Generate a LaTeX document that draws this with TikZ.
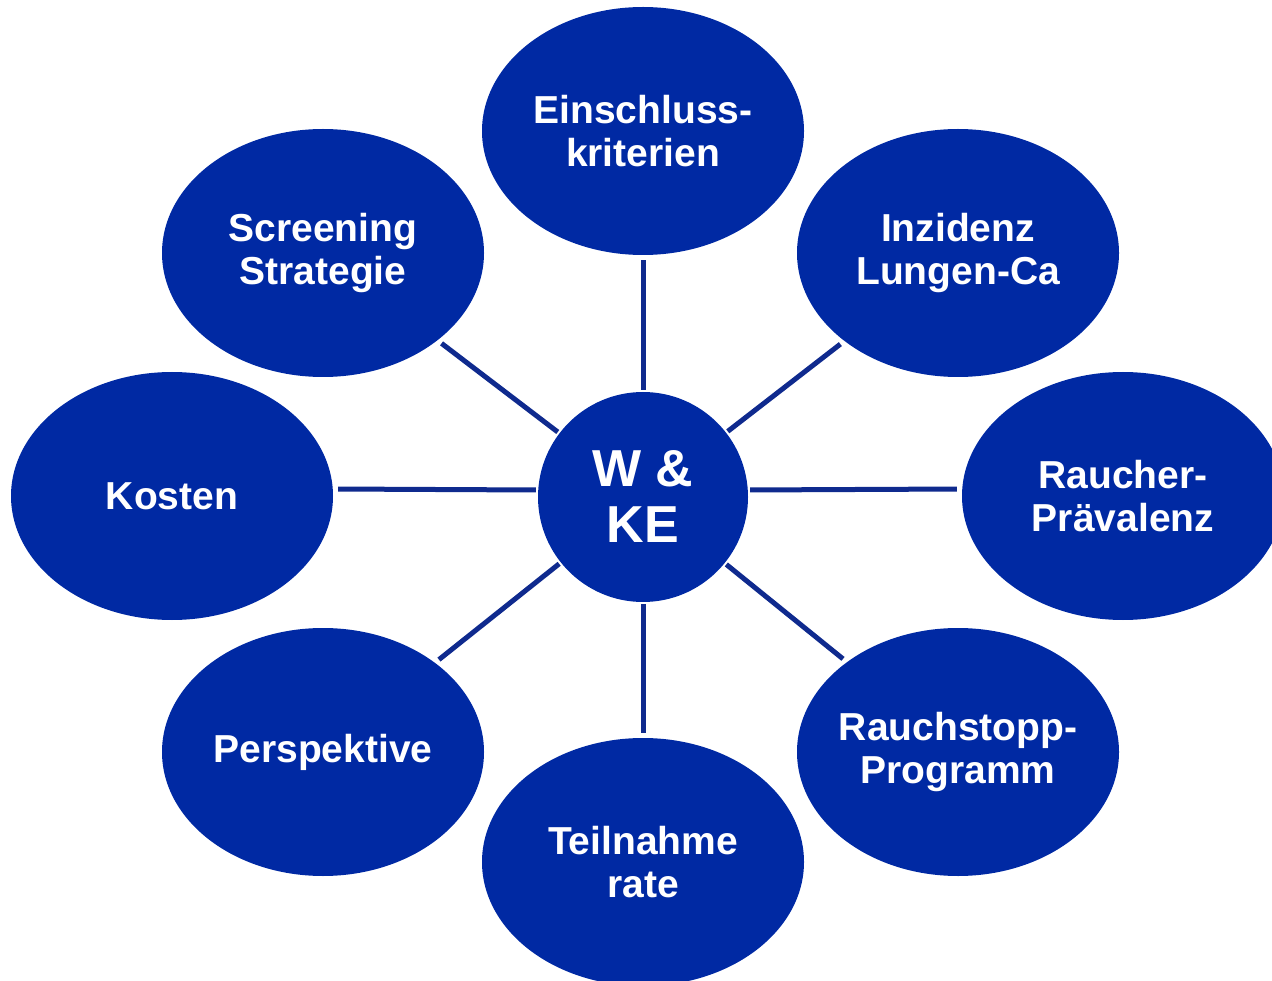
\documentclass[tikz,border=0pt]{standalone}
\usepackage{fontspec}
\setmainfont{Liberation Sans}
\usetikzlibrary{shapes.geometric}
\definecolor{topicblue}{HTML}{0029A3}
\definecolor{linkblue}{HTML}{0F2A8E}

\begin{document}
\begin{tikzpicture}[x=1pt, y=-1pt,
  topic/.style={ellipse, fill=topicblue, text=white, minimum width=322pt, minimum height=248pt,
    inner ysep=0pt, inner xsep=-20pt, align=center, font=\bfseries\fontsize{39}{43}\selectfont},
  hub/.style={circle, fill=topicblue, text=white, minimum size=210pt, inner sep=0pt,
    align=center, font=\bfseries\fontsize{52}{56}\selectfont},
  link/.style={draw=linkblue, line width=5pt, shorten <=2pt, shorten >=5pt}]

\useasboundingbox (0,0) rectangle (1272,981);

\node[hub] (wke) at (643,497) {W \&\\KE};

\node[topic] (einschluss)  at (643,131)  {Einschluss-\\kriterien};
\node[topic] (screening)   at (323,253)  {Screening\\Strategie};
\node[topic] (inzidenz)    at (958,253)  {Inzidenz\\Lungen-Ca};
\node[topic] (kosten)      at (172,496)  {Kosten};
\node[topic] (raucher)     at (1123,496) {Raucher-\\Prävalenz};
\node[topic] (perspektive) at (323,752)  {Perspektive};
\node[topic] (rauchstopp)  at (958,752)  {Rauchstopp-\\Programm};
\node[topic] (teilnahme)   at (643,862)  {Teilnahme\\rate};

\draw[link] (wke) -- (einschluss);
\draw[link] (wke) -- (screening);
\draw[link] (wke) -- (inzidenz);
\draw[link] ([yshift=7pt]wke.west) -- ([yshift=7pt]kosten.east);
\draw[link] ([yshift=7pt]wke.east) -- ([yshift=7pt]raucher.west);
\draw[link] (wke) -- (perspektive);
\draw[link] (wke) -- (rauchstopp);
\draw[link] (wke) -- (teilnahme);

\end{tikzpicture}
\end{document}
